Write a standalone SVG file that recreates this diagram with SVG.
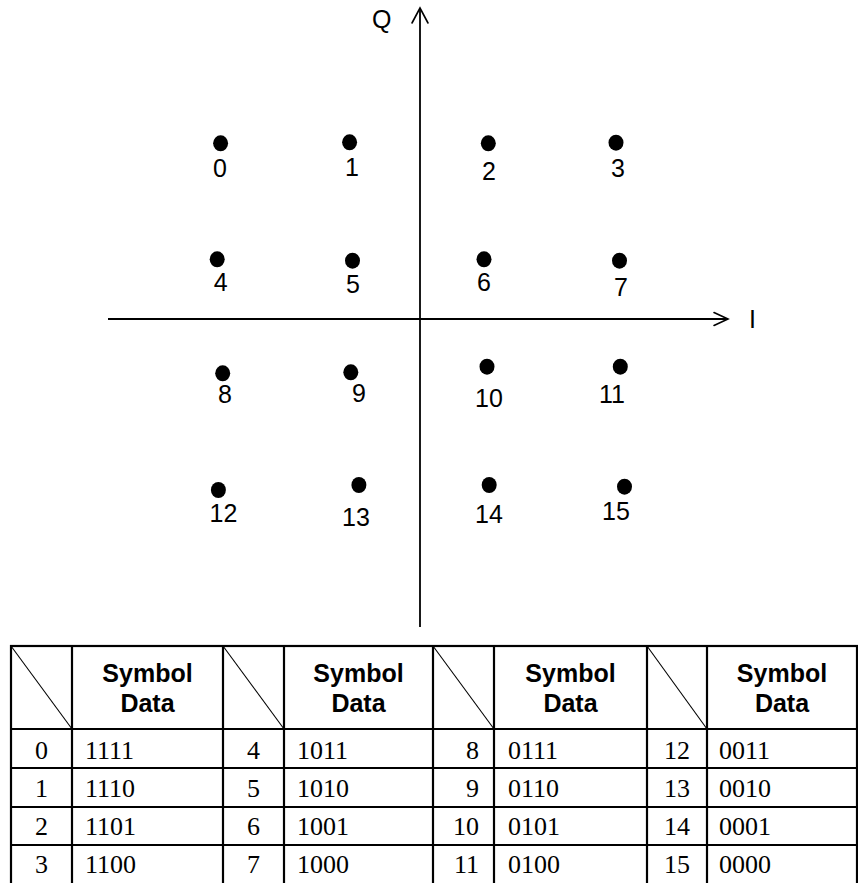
<svg xmlns="http://www.w3.org/2000/svg" width="858" height="883" viewBox="0 0 858 883">
<defs>
<style>
.ax{stroke:#000;stroke-width:1.8;fill:none}
.ah{stroke:#000;stroke-width:1.6;fill:none;stroke-linecap:round;stroke-linejoin:miter}
.dot{fill:#000}
.lbl{font-family:"Liberation Sans",Arial,sans-serif;font-size:25px;fill:#000;text-anchor:middle}
.axl{font-family:"Liberation Sans",Arial,sans-serif;font-size:25px;fill:#000}
.grid{stroke:#000;stroke-width:2.2;fill:none}
.diag{stroke:#000;stroke-width:1.1}
.hd{font-family:"Liberation Sans",Arial,sans-serif;font-size:25px;font-weight:bold;fill:#000;text-anchor:middle}
.num{font-family:"Liberation Serif","Times New Roman",serif;font-size:26px;fill:#000}
.c{text-anchor:middle}
.e{text-anchor:end}
</style>
</defs>
<rect width="858" height="883" fill="#fff"/>

<g id="connectors">
<line class="ax" x1="420" y1="8" x2="420" y2="627"/>
<polyline class="ah" points="412,23 420,8 428,23"/>
<line class="ax" x1="108" y1="319" x2="728" y2="319"/>
<polyline class="ah" points="714,312.5 728,319 714,325.5"/>
</g>
<text class="axl" x="372" y="28">Q</text>
<text class="axl" x="749" y="328">I</text>

<g id="p0"><ellipse class="dot" cx="220.6" cy="143.3" rx="7.5" ry="8"/><text class="lbl" x="220" y="177">0</text></g>
<g id="p1"><ellipse class="dot" cx="349.6" cy="142.3" rx="7.5" ry="8"/><text class="lbl" x="352" y="176">1</text></g>
<g id="p2"><ellipse class="dot" cx="488.3" cy="143.3" rx="7.5" ry="8"/><text class="lbl" x="489" y="180">2</text></g>
<g id="p3"><ellipse class="dot" cx="616" cy="142.7" rx="7.5" ry="8"/><text class="lbl" x="618" y="177">3</text></g>
<g id="p4"><ellipse class="dot" cx="217.2" cy="259.3" rx="7.5" ry="8"/><text class="lbl" x="220.6" y="291">4</text></g>
<g id="p5"><ellipse class="dot" cx="352.5" cy="260.7" rx="7.5" ry="8"/><text class="lbl" x="353" y="293">5</text></g>
<g id="p6"><ellipse class="dot" cx="484" cy="259.3" rx="7.5" ry="8"/><text class="lbl" x="484" y="291">6</text></g>
<g id="p7"><ellipse class="dot" cx="619.5" cy="260.7" rx="7.5" ry="8"/><text class="lbl" x="621" y="296">7</text></g>
<g id="p8"><ellipse class="dot" cx="222.7" cy="373.3" rx="7.5" ry="8"/><text class="lbl" x="225" y="403">8</text></g>
<g id="p9"><ellipse class="dot" cx="350.8" cy="372.3" rx="7.5" ry="8"/><text class="lbl" x="359" y="402">9</text></g>
<g id="p10"><ellipse class="dot" cx="487" cy="366.7" rx="7.5" ry="8"/><text class="lbl" x="489" y="407">10</text></g>
<g id="p11"><ellipse class="dot" cx="620.3" cy="366.7" rx="7.5" ry="8"/><text class="lbl" x="612" y="403">11</text></g>
<g id="p12"><ellipse class="dot" cx="218.4" cy="490" rx="7.5" ry="8"/><text class="lbl" x="223.5" y="522">12</text></g>
<g id="p13"><ellipse class="dot" cx="358.9" cy="485" rx="7.5" ry="8"/><text class="lbl" x="356" y="526">13</text></g>
<g id="p14"><ellipse class="dot" cx="489.2" cy="485" rx="7.5" ry="8"/><text class="lbl" x="489" y="523">14</text></g>
<g id="p15"><ellipse class="dot" cx="624.5" cy="486.7" rx="7.5" ry="8"/><text class="lbl" x="616" y="520">15</text></g>

<g id="table">
<rect class="grid" x="11" y="646" width="846" height="240"/>
<line class="grid" x1="11" y1="729" x2="857" y2="729"/>
<line class="grid" x1="11" y1="768" x2="857" y2="768"/>
<line class="grid" x1="11" y1="807" x2="857" y2="807"/>
<line class="grid" x1="11" y1="845" x2="857" y2="845"/>
<line class="grid" x1="72" y1="646" x2="72" y2="886"/>
<line class="grid" x1="223" y1="646" x2="223" y2="886"/>
<line class="grid" x1="284" y1="646" x2="284" y2="886"/>
<line class="grid" x1="433" y1="646" x2="433" y2="886"/>
<line class="grid" x1="494" y1="646" x2="494" y2="886"/>
<line class="grid" x1="647" y1="646" x2="647" y2="886"/>
<line class="grid" x1="707" y1="646" x2="707" y2="886"/>
<line class="diag" x1="11" y1="646" x2="72" y2="729"/>
<line class="diag" x1="223" y1="646" x2="284" y2="729"/>
<line class="diag" x1="433" y1="646" x2="494" y2="729"/>
<line class="diag" x1="647" y1="646" x2="707" y2="729"/>

<text class="hd" x="147.5" y="682">Symbol</text><text class="hd" x="147.5" y="712">Data</text>
<text class="hd" x="358.5" y="682">Symbol</text><text class="hd" x="358.5" y="712">Data</text>
<text class="hd" x="570.5" y="682">Symbol</text><text class="hd" x="570.5" y="712">Data</text>
<text class="hd" x="782" y="682">Symbol</text><text class="hd" x="782" y="712">Data</text>

<text class="num c" x="41.5" y="759">0</text><text class="num" x="85" y="759">1111</text>
<text class="num c" x="41.5" y="797">1</text><text class="num" x="85" y="797">1110</text>
<text class="num c" x="41.5" y="835">2</text><text class="num" x="85" y="835">1101</text>
<text class="num c" x="41.5" y="873">3</text><text class="num" x="85" y="873">1100</text>

<text class="num c" x="253.5" y="759">4</text><text class="num" x="297" y="759">1011</text>
<text class="num c" x="253.5" y="797">5</text><text class="num" x="297" y="797">1010</text>
<text class="num c" x="253.5" y="835">6</text><text class="num" x="297" y="835">1001</text>
<text class="num c" x="253.5" y="873">7</text><text class="num" x="297" y="873">1000</text>

<text class="num e" x="479" y="759">8</text><text class="num" x="508" y="759">0111</text>
<text class="num e" x="479" y="797">9</text><text class="num" x="508" y="797">0110</text>
<text class="num e" x="479" y="835">10</text><text class="num" x="508" y="835">0101</text>
<text class="num e" x="479" y="873">11</text><text class="num" x="508" y="873">0100</text>

<text class="num e" x="690" y="759">12</text><text class="num" x="719" y="759">0011</text>
<text class="num e" x="690" y="797">13</text><text class="num" x="719" y="797">0010</text>
<text class="num e" x="690" y="835">14</text><text class="num" x="719" y="835">0001</text>
<text class="num e" x="690" y="873">15</text><text class="num" x="719" y="873">0000</text>
</g>
</svg>
